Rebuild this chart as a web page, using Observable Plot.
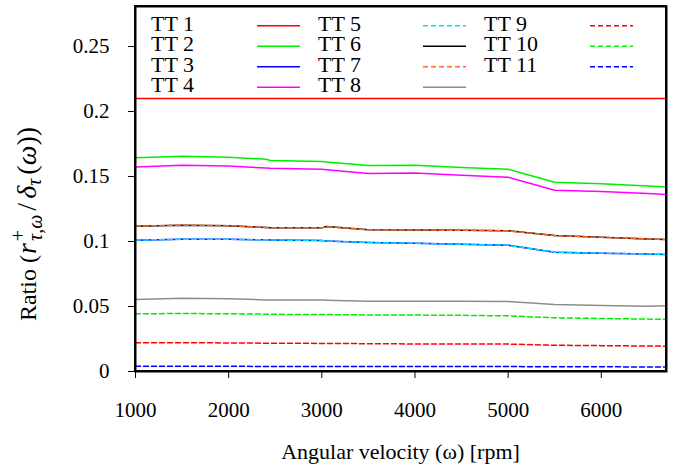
<!DOCTYPE html>
<html>
<head>
<meta charset="utf-8">
<script src="https://cdn.jsdelivr.net/npm/d3@7"></script>
<script src="https://cdn.jsdelivr.net/npm/@observablehq/plot@0.6"></script>
<style>
  html, body { margin: 0; padding: 0; background: white; }
  #chart { position: relative; width: 681px; height: 468px; }
</style>
</head>
<body>
<div id="chart"></div>
<script>
// ---- data ----
const rpm = [1000, 1500, 2000, 2400, 2450, 3000, 3050, 3500, 4000, 4500, 5000, 5500, 6000, 6500, 6700];

const tt1  = [0.2100, 0.2100, 0.2100, 0.2100, 0.2100, 0.2100, 0.2100, 0.2100, 0.2100, 0.2100, 0.2100, 0.2100, 0.2100, 0.2100, 0.2100];
const tt2  = [0.1644, 0.1656, 0.1648, 0.1633, 0.1623, 0.1615, 0.1612, 0.1585, 0.1587, 0.1570, 0.1556, 0.1456, 0.1445, 0.1428, 0.1420];
const tt3  = [0.1010, 0.1018, 0.1017, 0.1013, 0.1012, 0.1008, 0.1003, 0.0993, 0.0987, 0.0978, 0.0972, 0.0918, 0.0910, 0.0904, 0.0900];
const tt4  = [0.1574, 0.1587, 0.1580, 0.1565, 0.1563, 0.1556, 0.1552, 0.1523, 0.1528, 0.1510, 0.1495, 0.1395, 0.1385, 0.1370, 0.1362];
const tt5  = [0.1010, 0.1018, 0.1017, 0.1013, 0.1012, 0.1008, 0.1003, 0.0993, 0.0987, 0.0978, 0.0972, 0.0918, 0.0910, 0.0904, 0.0900];
const tt6  = [0.1118, 0.1126, 0.1122, 0.1108, 0.1105, 0.1105, 0.1115, 0.1090, 0.1088, 0.1087, 0.1082, 0.1046, 0.1032, 0.1020, 0.1015];
const tt7  = [0.1118, 0.1126, 0.1122, 0.1108, 0.1105, 0.1105, 0.1115, 0.1090, 0.1088, 0.1087, 0.1082, 0.1046, 0.1032, 0.1020, 0.1015];
const tt8  = [0.0554, 0.0564, 0.0560, 0.0551, 0.0551, 0.0550, 0.0549, 0.0541, 0.0541, 0.0540, 0.0538, 0.0515, 0.0508, 0.0502, 0.0506];
const tt9  = [0.0221, 0.0221, 0.0220, 0.0218, 0.0218, 0.0216, 0.0216, 0.0214, 0.0212, 0.0212, 0.0211, 0.0202, 0.0199, 0.0196, 0.0195];
const tt10 = [0.0444, 0.0446, 0.0444, 0.0441, 0.0440, 0.0438, 0.0438, 0.0435, 0.0434, 0.0432, 0.0428, 0.0413, 0.0408, 0.0403, 0.0402];
const tt11 = [0.0040, 0.0040, 0.0040, 0.0039, 0.0039, 0.0039, 0.0039, 0.0038, 0.0038, 0.0038, 0.0038, 0.0036, 0.0036, 0.0035, 0.0035];

const seriesNames = ["TT 1", "TT 2", "TT 3", "TT 4", "TT 5", "TT 6", "TT 7", "TT 8", "TT 9", "TT 10", "TT 11"];
const seriesValues = [tt1, tt2, tt3, tt4, tt5, tt6, tt7, tt8, tt9, tt10, tt11];
const seriesColors = ["#ff0000", "#00ee00", "#0000ff", "#ff00ff", "#00e0ff", "#000000", "#ff6428", "#8c8c8c", "#ff0000", "#00ee00", "#0000ff"];
const seriesDashed = [false, false, false, false, true, false, true, false, true, true, true];

const xTicks = [1000, 2000, 3000, 4000, 5000, 6000];
const xTickLabels = ["1000", "2000", "3000", "4000", "5000", "6000"];
const yTicks = [0, 0.05, 0.1, 0.15, 0.2, 0.25];
const yTickLabels = ["0", "0.05", "0.1", "0.15", "0.2", "0.25"];

const xTitle = "Angular velocity (ω) [rpm]";

// ---- build table ----
const table = [];
seriesNames.forEach((name, i) => {
  seriesValues[i].forEach((v, j) => table.push({series: name, idx: i, rpm: rpm[j], ratio: v}));
});

const SERIF = "Liberation Serif";
const DASH = "5,3";
const lineMarks = seriesNames.map((name, i) =>
  Plot.line(table.filter(d => d.idx === i), {
    x: "rpm", y: "ratio",
    stroke: seriesColors[i],
    strokeWidth: 1.5,
    strokeDasharray: seriesDashed[i] ? DASH : null,
    clip: true
  })
);

const chart = Plot.plot({
  width: 681,
  height: 468,
  marginLeft: 135,
  marginRight: 15,
  marginTop: 6,
  marginBottom: 97,
  style: {fontFamily: SERIF, fontSize: "21px", background: "white", color: "black", overflow: "visible"},
  x: {domain: [1000, 6700]},
  y: {domain: [0, 0.2808]},
  marks: [
    Plot.axisX({ticks: xTicks, tickFormat: d => xTickLabels[xTicks.indexOf(d)], tickSize: 7, tickPadding: 24, label: null, fontSize: 21, fontFamily: SERIF, stroke: "black", strokeOpacity: 1}),
    Plot.axisY({ticks: yTicks, tickFormat: d => yTickLabels[yTicks.indexOf(d)], tickSize: 7, tickPadding: 19, label: null, fontSize: 21, fontFamily: SERIF, stroke: "black", strokeOpacity: 1}),
    ...lineMarks,
    Plot.frame({stroke: "black", strokeWidth: 2})
  ]
});

document.getElementById("chart").appendChild(chart);

// ---- overlays: frame, legend and axis titles ----
const svg = d3.select(chart);
const xr = chart.scale("x").range;
const yr = chart.scale("y").range;

svg.append("rect")
  .attr("x", Math.min(...xr)).attr("y", Math.min(...yr))
  .attr("width", Math.abs(xr[1] - xr[0])).attr("height", Math.abs(yr[1] - yr[0]))
  .attr("fill", "none").attr("stroke", "black").attr("stroke-width", 2);

// legend: 3 columns, 4 rows
const colText = [151, 318, 484];
const colSample = [257, 423, 590];
const rowBase = [30.7, 51.2, 71.7, 92.2];
const lg = svg.append("g").attr("font-family", SERIF).attr("font-size", 22).attr("fill", "black").attr("text-anchor", "start");
seriesNames.forEach((name, i) => {
  const c = Math.floor(i / 4), r = i % 4;
  lg.append("text").attr("x", colText[c]).attr("y", rowBase[r]).attr("text-anchor", "start").text(name);
  lg.append("line")
    .attr("x1", colSample[c]).attr("x2", colSample[c] + 43)
    .attr("y1", rowBase[r] - 5).attr("y2", rowBase[r] - 5)
    .attr("stroke", seriesColors[i]).attr("stroke-width", 1.5)
    .attr("stroke-dasharray", seriesDashed[i] ? DASH : null);
});

// x title
svg.append("text")
  .attr("x", 400.5).attr("y", 459)
  .attr("text-anchor", "middle")
  .attr("font-family", SERIF).attr("font-size", 22).attr("fill", "black")
  .text(xTitle);

// y title with math
const yt = svg.append("text")
  .attr("transform", "translate(36,224) rotate(-90)")
  .attr("text-anchor", "middle")
  .attr("font-family", SERIF).attr("font-size", 24).attr("fill", "black");
yt.append("tspan").text("Ratio (");
yt.append("tspan").attr("font-style", "italic").attr("font-size", 28).attr("dx", 1).text("r");
yt.append("tspan").attr("font-size", 20).attr("dx", 2).attr("dy", -11).text("+");
yt.append("tspan").attr("font-size", 20).attr("font-style", "italic").attr("dx", -11).attr("dy", 17).text("τ,ω");
yt.append("tspan").attr("font-size", 28).attr("dx", 4).attr("dy", -6).text("/");
yt.append("tspan").attr("font-size", 28).attr("font-style", "italic").attr("dx", 4).text("δ");
yt.append("tspan").attr("font-size", 20).attr("font-style", "italic").attr("dy", 5).text("τ");
yt.append("tspan").attr("font-size", 28).attr("dx", 4).attr("dy", -5).text("(");
yt.append("tspan").attr("font-size", 28).attr("font-style", "italic").text("ω");
yt.append("tspan").attr("font-size", 28).text("))");
</script>
</body>
</html>
